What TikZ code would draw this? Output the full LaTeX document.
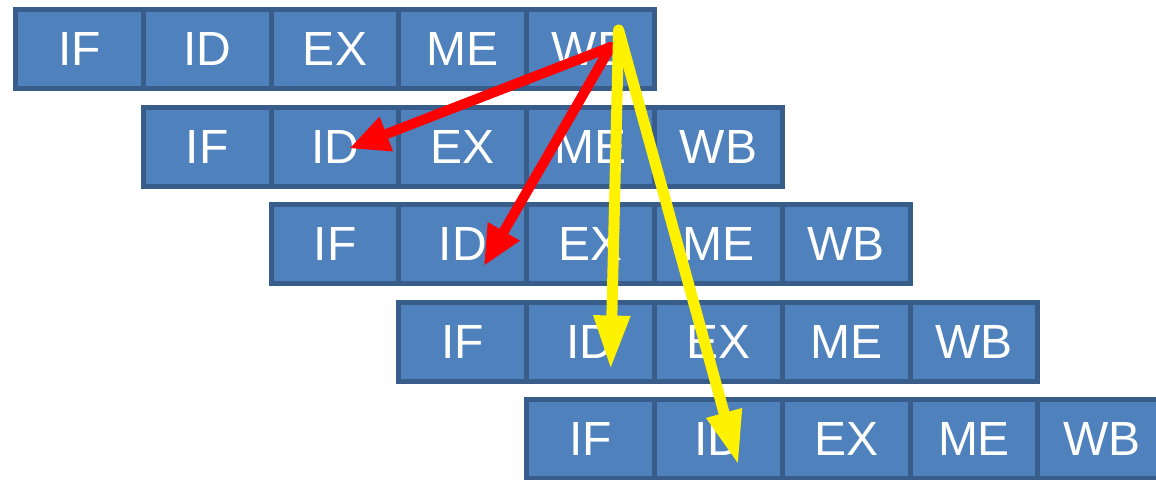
\documentclass[tikz,border=0pt]{standalone}
\usepackage{fontspec}
\setmainfont{Liberation Sans}
\usetikzlibrary{arrows.meta,positioning}
\definecolor{PIPEfill}{HTML}{4F81BD}
\definecolor{PIPEedge}{HTML}{385D8A}
\tikzset{stagebox/.style={draw=PIPEedge,line width=2.5pt,fill=PIPEfill,text=white,
 outer sep=0pt,inner sep=0pt,minimum width=63.9pt,minimum height=39.5pt,
 font=\fontsize{24}{28}\selectfont},
 fwdred/.style={-{Triangle[length=20pt,width=17pt]},line width=5pt,draw=red,line cap=round},
 fwdyel/.style={-{Triangle[length=27pt,width=17pt]},line width=5.5pt,draw=yellow,line cap=round}}

\begin{document}
\begin{tikzpicture}
\useasboundingbox (-39.7pt,24.5pt) rectangle (538.3pt,-215pt);
\foreach \r in {0,...,4}
 \foreach \s [count=\k from 0] in {IF,ID,EX,ME,WB}
  \node[stagebox] (r\r\s) at ({(\r+\k)*63.9pt},{-\r*48.75pt}) {\s};
\coordinate (redsrc) at ([xshift=10pt,yshift=1pt]r0WB.center);
\coordinate (yelsrc) at ([xshift=14pt,yshift=9.5pt]r0WB.center);
\draw[fwdred] (redsrc) -- ([xshift=7pt,yshift=-1pt]r1ID.center);
\draw[fwdred] (redsrc) -- ([xshift=10.5pt,yshift=-11pt]r2ID.center);
\draw[fwdyel] (yelsrc) -- ([xshift=10pt,yshift=-14pt]r3ID.center);
\draw[fwdyel] (yelsrc) -- ([xshift=10pt,yshift=-13pt]r4ID.center);
\end{tikzpicture}
\end{document}
